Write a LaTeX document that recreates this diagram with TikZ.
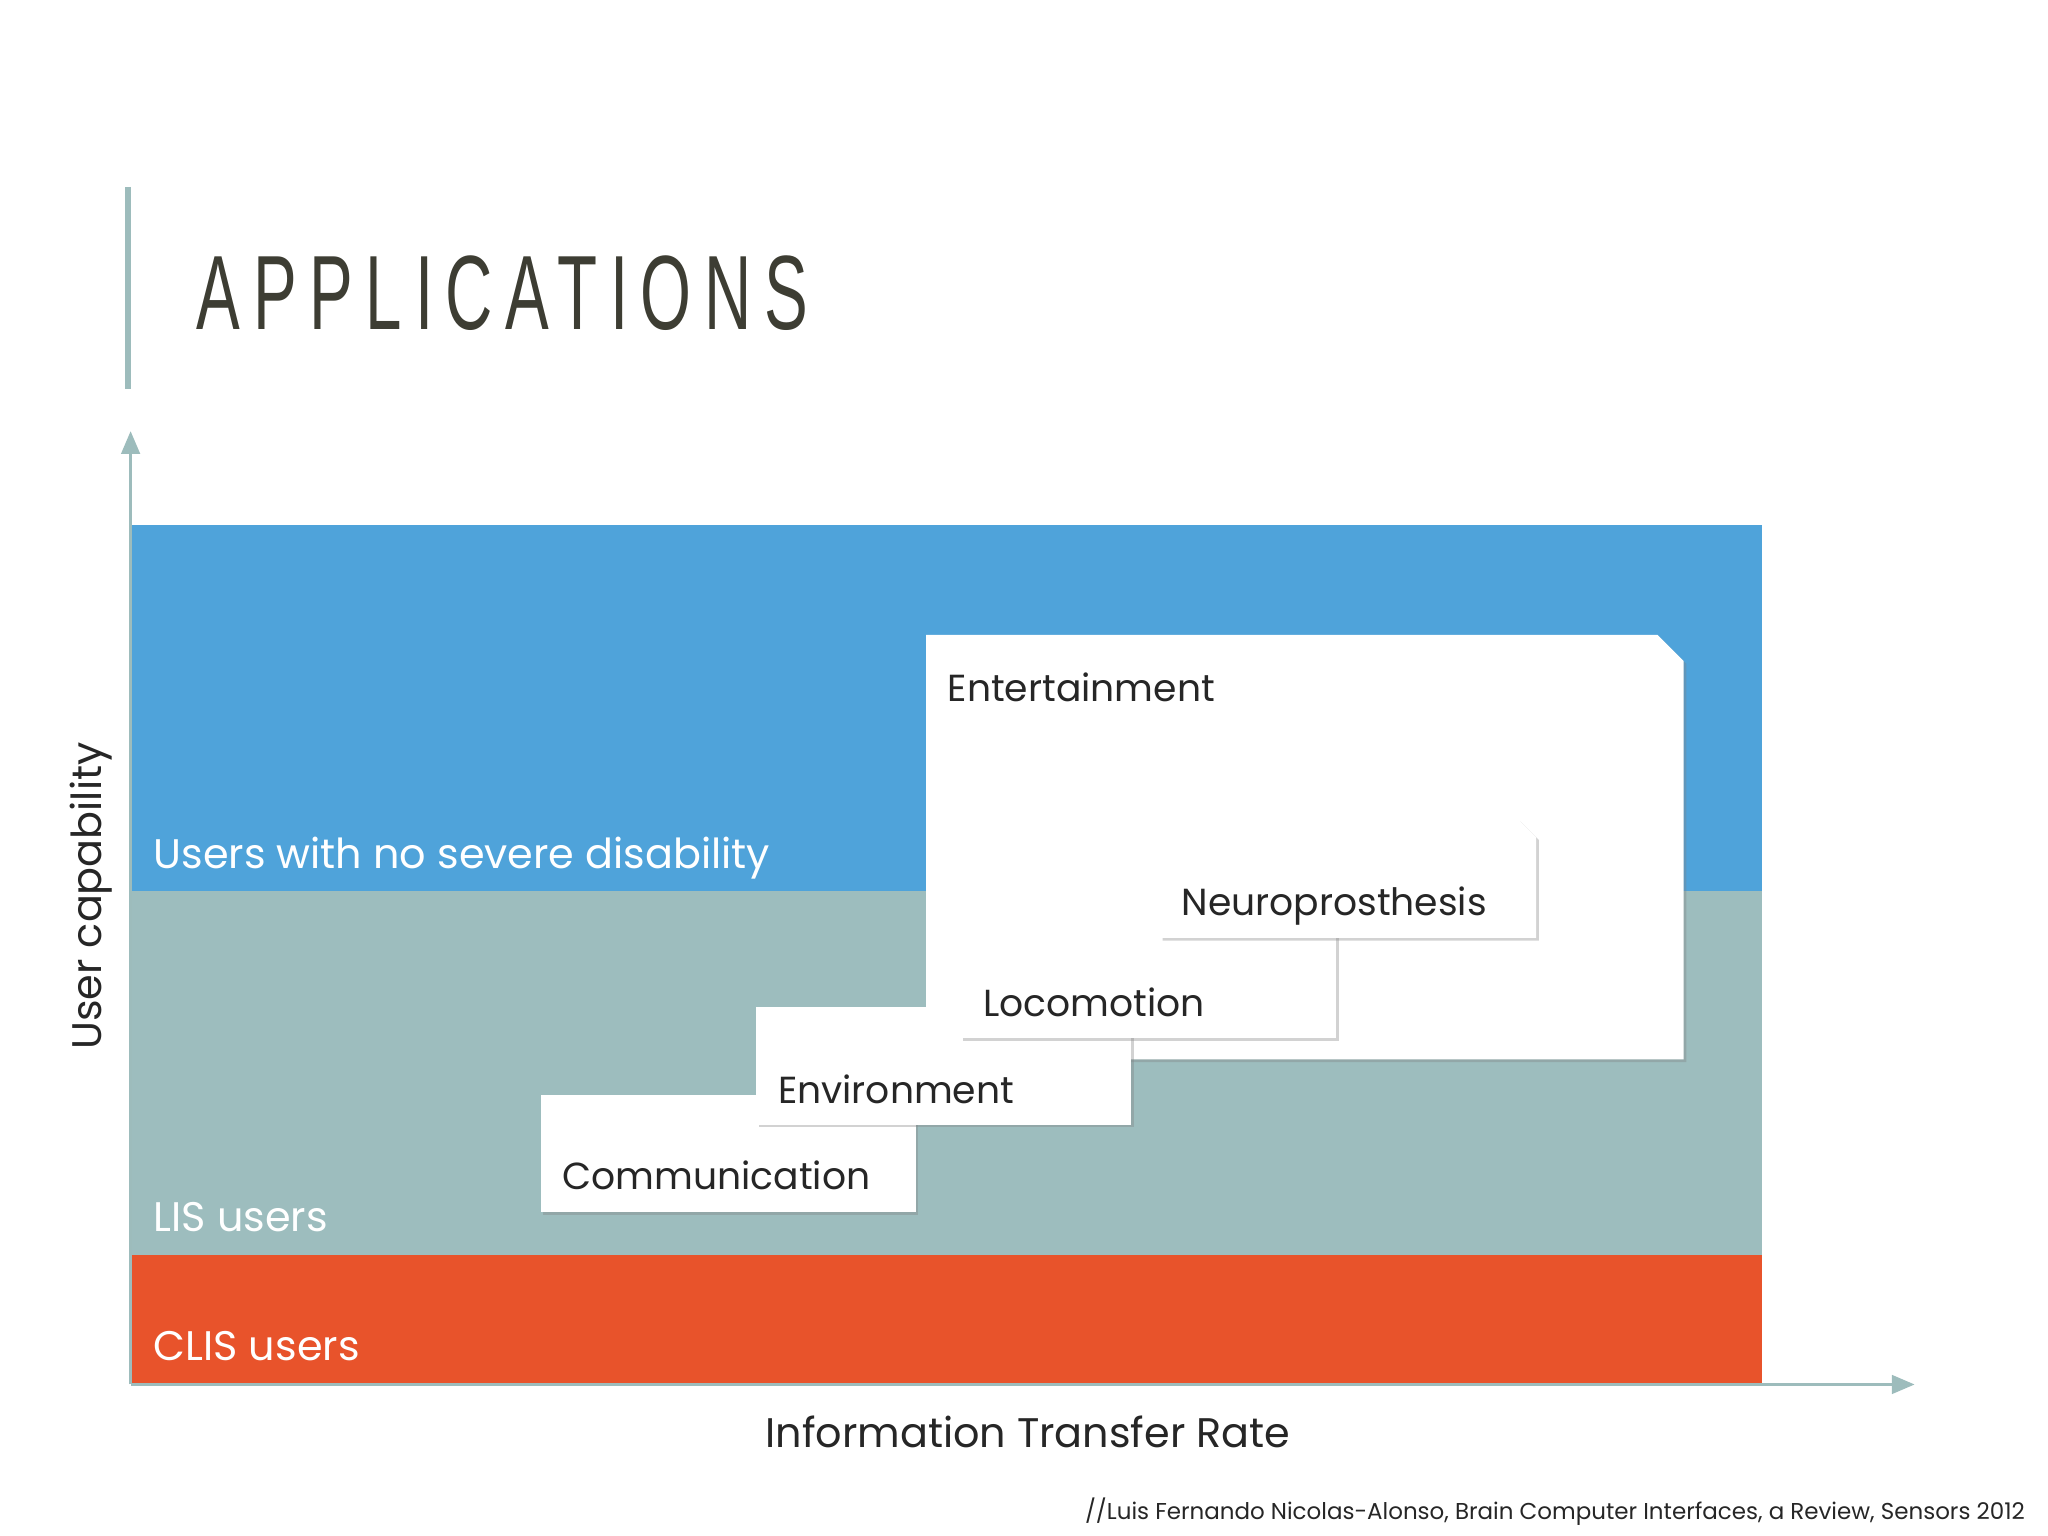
\documentclass[tikz,border=0pt]{standalone}
\usepackage{fontspec}
\setmainfont{Poppins}
\newfontfamily\titlefont[FakeStretch=0.62,LetterSpace=12]{Liberation Sans}
\usetikzlibrary{shadows,arrows.meta}
\definecolor{axis}{HTML}{9DBCBC}
\definecolor{blu}{HTML}{4FA3DA}
\definecolor{tea}{HTML}{9DBDBE}
\definecolor{rd}{HTML}{E8532B}
\definecolor{ttl}{HTML}{3D3D33}
\definecolor{txt}{HTML}{262626}
\tikzset{
 card/.style={fill=white,drop shadow={shadow xshift=0.6pt,shadow yshift=-0.6pt,opacity=0.35}},
 cardtxt/.style={anchor=base west,text=txt,font=\fontsize{8.2}{9}\selectfont,inner sep=0},
 bandtxt/.style={anchor=base west,text=white,font=\fontsize{9}{10}\selectfont,inner sep=0},
}
\begin{document}
\begin{tikzpicture}[x=0.01cm,y=-0.01cm]
\useasboundingbox (0,0) rectangle (1568,1176);
\draw[axis,line width=1.2pt] (98,143) -- (98,298);
\node[anchor=base west,inner sep=0,text=ttl,font=\titlefont\fontsize{23}{23}\selectfont] (title) at (150,252) {APPLICATIONS};
\fill[blu] (100,402) rectangle (1349,682);
\fill[tea] (100,682) rectangle (1349,961);
\fill[rd] (100,961) rectangle (1349,1060);
\coordinate (o) at (100,1060);
\coordinate (ytop) at (100,330);
\coordinate (xend) at (1466,1060);
\draw[axis,line width=0.8pt,-{Triangle[length=5pt,width=4pt]}] (o) -- (ytop);
\draw[axis,line width=0.8pt,-{Triangle[length=5pt,width=4pt]}] (o) -- (xend);
\node[bandtxt] (b1) at (117,665) {Users with no severe disability};
\node[bandtxt] (b2) at (117,943) {LIS users};
\node[bandtxt] (b3) at (117,1042) {CLIS users};
% cards
\path[card] (709,486) -- (1269,486) -- (1289,506) -- (1289,811) -- (709,811) -- cycle;
\node[cardtxt] (ent) at (725,537) {Entertainment};
\path[card] (414,838) rectangle (701,928);
\node[cardtxt] (com) at (430,911) {Communication};
\path[card] (579,771) rectangle (866,861);
\node[cardtxt] (env) at (595,845) {Environment};
\path[card] (735,704) rectangle (1023,795);
\node[cardtxt] (loc) at (752,778) {Locomotion};
\path[card] (888,627) -- (1162,627) -- (1176,641) -- (1176,718) -- (888,718) -- cycle;
\node[cardtxt] (neu) at (904,701) {Neuroprosthesis};
\node[rotate=90,text=txt,font=\fontsize{9}{10}\selectfont] (yl) at (70,686) {User capability};
\node[text=txt,font=\fontsize{9}{10}\selectfont] (xl) at (787,1096) {Information Transfer Rate};
\node[anchor=base east,inner sep=0,text=txt,font=\fontsize{5}{6}\selectfont] (cite) at (1551,1163) {//Luis Fernando Nicolas-Alonso, Brain Computer Interfaces, a Review, Sensors 2012};
\end{tikzpicture}
\end{document}
